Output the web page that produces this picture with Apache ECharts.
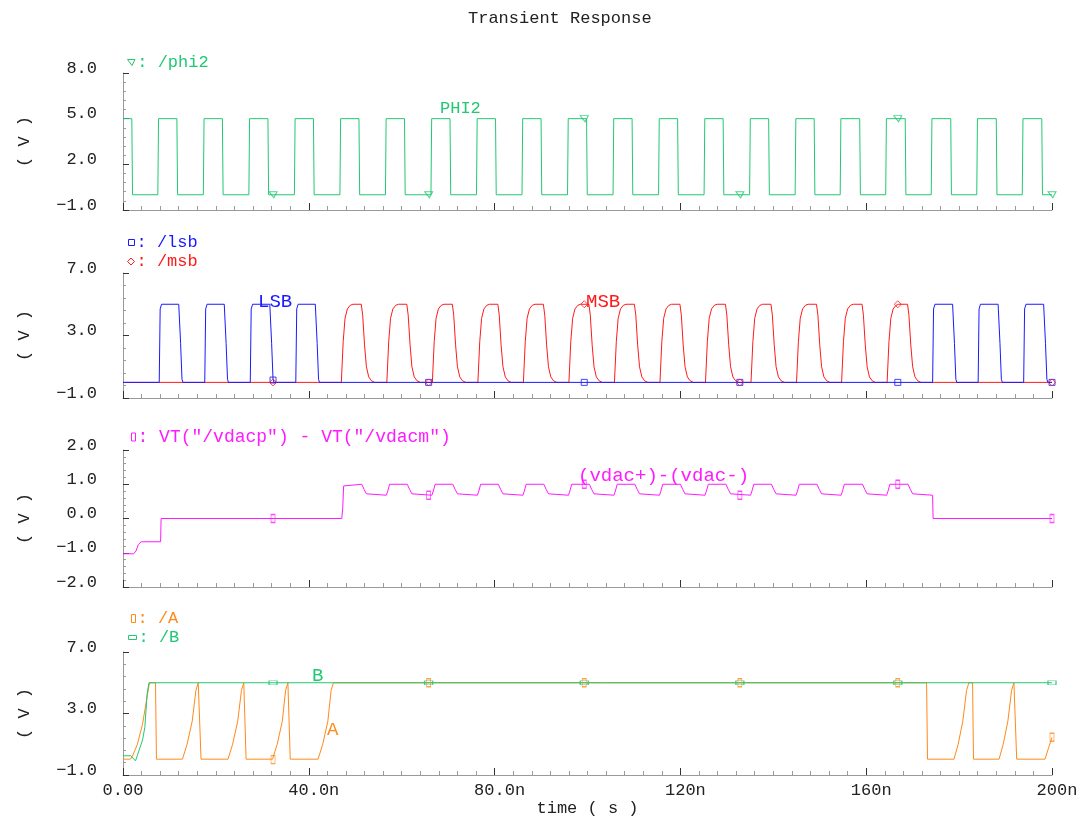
<!DOCTYPE html>
<html><head><meta charset="utf-8">
<script src="https://cdn.jsdelivr.net/npm/echarts/dist/echarts.min.js"></script>
<style>html,body{margin:0;padding:0;background:#fff}#c{width:1090px;height:825px}</style>
</head><body><div id="c"></div>
<script>
// ---------- tick labels ----------
const xTickLabels = ['0.00', '40.0n', '80.0n', '120n', '160n', '200n'];
const yTicks1 = ['\u22121.0', '2.0', '5.0', '8.0'];
const yTicks2 = ['\u22121.0', '3.0', '7.0'];
const yTicks3 = ['\u22122.0', '\u22121.0', '0.0', '1.0', '2.0'];
const yTicks4 = ['\u22121.0', '3.0', '7.0'];

// ---------- series values: [time (ns), volts] ----------
const phi2 = [
  [0,5],[1.9,5],[2.05,0],
  [7.5,0],[7.65,5],[11.6,5],[11.75,0],
  [17.3,0],[17.45,5],[21.4,5],[21.55,0],
  [27.1,0],[27.25,5],[31.2,5],[31.35,0],
  [36.9,0],[37.05,5],[41.0,5],[41.15,0],
  [46.7,0],[46.85,5],[50.8,5],[50.95,0],
  [56.5,0],[56.65,5],[60.6,5],[60.75,0],
  [66.3,0],[66.45,5],[70.4,5],[70.55,0],
  [76.1,0],[76.25,5],[80.2,5],[80.35,0],
  [85.9,0],[86.05,5],[90.0,5],[90.15,0],
  [95.7,0],[95.85,5],[99.8,5],[99.95,0],
  [105.5,0],[105.65,5],[109.6,5],[109.75,0],
  [115.3,0],[115.45,5],[119.4,5],[119.55,0],
  [125.1,0],[125.25,5],[129.2,5],[129.35,0],
  [134.9,0],[135.05,5],[139.0,5],[139.15,0],
  [144.7,0],[144.85,5],[148.8,5],[148.95,0],
  [154.4,0],[154.55,5],[158.6,5],[158.75,0],
  [164.2,0],[164.35,5],[168.4,5],[168.55,0],
  [174.0,0],[174.15,5],[178.2,5],[178.35,0],
  [183.8,0],[183.95,5],[188.0,5],[188.15,0],
  [193.6,0],[193.75,5],[197.8,5],[197.95,0],
  [200,0]
];
const lsb = [
  [0,0],[7.8,0],[8.0,4.7],[8.3,5],[12.0,5],[12.4,2.5],[12.7,0.2],[12.9,0],
  [17.6,0],[17.8,4.7],[18.1,5],[21.8,5],[22.2,2.5],[22.5,0.2],[22.7,0],
  [27.4,0],[27.6,4.7],[27.9,5],[31.6,5],[32.0,2.5],[32.3,0.2],[32.5,0],
  [37.2,0],[37.4,4.7],[37.7,5],[41.4,5],[41.8,2.5],[42.1,0.2],[42.3,0],
  [174.3,0],[174.5,4.7],[174.8,5],[178.6,5],[179.0,2.5],[179.3,0.2],[179.5,0],
  [184.1,0],[184.3,4.7],[184.6,5],[188.4,5],[188.8,2.5],[189.1,0.2],[189.3,0],
  [193.9,0],[194.1,4.7],[194.4,5],[198.2,5],[198.6,2.5],[198.9,0.2],[199.1,0],[200,0]
];
const msb = [
  [0,0],
  [47.0,0],[47.4,2.6],[47.8,4.1],[48.3,4.7],[48.9,4.93],[49.5,5],[51.3,5],[51.6,4.3],[52.0,2.4],[52.4,1.0],[52.9,0.35],[53.5,0.1],[54.2,0],
  [56.8,0],[57.2,2.6],[57.6,4.1],[58.1,4.7],[58.7,4.93],[59.3,5],[61.1,5],[61.4,4.3],[61.8,2.4],[62.2,1.0],[62.7,0.35],[63.3,0.1],[64.0,0],
  [66.6,0],[67.0,2.6],[67.4,4.1],[67.9,4.7],[68.5,4.93],[69.1,5],[70.9,5],[71.2,4.3],[71.6,2.4],[72.0,1.0],[72.5,0.35],[73.1,0.1],[73.8,0],
  [76.4,0],[76.8,2.6],[77.2,4.1],[77.7,4.7],[78.3,4.93],[78.9,5],[80.7,5],[81.0,4.3],[81.4,2.4],[81.8,1.0],[82.3,0.35],[82.9,0.1],[83.6,0],
  [86.2,0],[86.6,2.6],[87.0,4.1],[87.5,4.7],[88.1,4.93],[88.7,5],[90.5,5],[90.8,4.3],[91.2,2.4],[91.6,1.0],[92.1,0.35],[92.7,0.1],[93.4,0],
  [96.0,0],[96.4,2.6],[96.8,4.1],[97.3,4.7],[97.9,4.93],[98.5,5],[100.3,5],[100.6,4.3],[101.0,2.4],[101.4,1.0],[101.9,0.35],[102.5,0.1],[103.2,0],
  [105.8,0],[106.2,2.6],[106.6,4.1],[107.1,4.7],[107.7,4.93],[108.3,5],[110.1,5],[110.4,4.3],[110.8,2.4],[111.2,1.0],[111.7,0.35],[112.3,0.1],[113.0,0],
  [115.6,0],[116.0,2.6],[116.4,4.1],[116.9,4.7],[117.5,4.93],[118.1,5],[119.9,5],[120.2,4.3],[120.6,2.4],[121.0,1.0],[121.5,0.35],[122.1,0.1],[122.8,0],
  [125.4,0],[125.8,2.6],[126.2,4.1],[126.7,4.7],[127.3,4.93],[127.9,5],[129.7,5],[130.0,4.3],[130.4,2.4],[130.8,1.0],[131.3,0.35],[131.9,0.1],[132.6,0],
  [135.2,0],[135.6,2.6],[136.0,4.1],[136.5,4.7],[137.1,4.93],[137.7,5],[139.5,5],[139.8,4.3],[140.2,2.4],[140.6,1.0],[141.1,0.35],[141.7,0.1],[142.4,0],
  [145.0,0],[145.4,2.6],[145.8,4.1],[146.3,4.7],[146.9,4.93],[147.5,5],[149.3,5],[149.6,4.3],[150.0,2.4],[150.4,1.0],[150.9,0.35],[151.5,0.1],[152.2,0],
  [154.7,0],[155.1,2.6],[155.5,4.1],[156.0,4.7],[156.6,4.93],[157.2,5],[159.1,5],[159.4,4.3],[159.8,2.4],[160.2,1.0],[160.7,0.35],[161.3,0.1],[162.0,0],
  [164.5,0],[164.9,2.6],[165.3,4.1],[165.8,4.7],[166.4,4.93],[167.0,5],[168.9,5],[169.2,4.3],[169.6,2.4],[170.0,1.0],[170.5,0.35],[171.1,0.1],[171.8,0],
  [200,0]
];
const vdac = [
  [0,-1.03],[2.3,-1.03],[2.8,-0.95],[3.3,-0.76],[3.9,-0.68],[8.1,-0.68],[8.2,0],
  [47.1,0],[47.3,0.3],[47.5,0.95],[47.8,1.0],[51.4,1.0],[51.9,0.85],[52.4,0.72],[52.8,0.68],
  [56.7,0.68],[57.0,0.8],[57.4,1.0],[61.2,1.0],[61.7,0.85],[62.2,0.72],[62.6,0.68],
  [66.5,0.68],[66.8,0.8],[67.2,1.0],[71.0,1.0],[71.5,0.85],[72.0,0.72],[72.4,0.68],
  [76.3,0.68],[76.6,0.8],[77.0,1.0],[80.8,1.0],[81.3,0.85],[81.8,0.72],[82.2,0.68],
  [86.1,0.68],[86.4,0.8],[86.8,1.0],[90.6,1.0],[91.1,0.85],[91.6,0.72],[92.0,0.68],
  [95.9,0.68],[96.2,0.8],[96.6,1.0],[100.4,1.0],[100.9,0.85],[101.4,0.72],[101.8,0.68],
  [105.7,0.68],[106.0,0.8],[106.4,1.0],[110.2,1.0],[110.7,0.85],[111.2,0.72],[111.6,0.68],
  [115.5,0.68],[115.8,0.8],[116.2,1.0],[120.0,1.0],[120.5,0.85],[121.0,0.72],[121.4,0.68],
  [125.3,0.68],[125.6,0.8],[126.0,1.0],[129.8,1.0],[130.3,0.85],[130.8,0.72],[131.2,0.68],
  [135.1,0.68],[135.4,0.8],[135.8,1.0],[139.6,1.0],[140.1,0.85],[140.6,0.72],[141.0,0.68],
  [144.9,0.68],[145.2,0.8],[145.6,1.0],[149.4,1.0],[149.9,0.85],[150.4,0.72],[150.8,0.68],
  [154.6,0.68],[154.9,0.8],[155.3,1.0],[159.2,1.0],[159.7,0.85],[160.2,0.72],[160.6,0.68],
  [164.4,0.68],[164.7,0.8],[165.1,1.0],[169.0,1.0],[169.5,0.85],[170.0,0.72],[170.4,0.68],
  [174.3,0.68],[174.4,0],[200,0]
];
const sigA = [
  [0,0.03],[1.6,0.03],[2.0,0.2],[3.1,1.0],[4.2,2.3],[5.2,4.1],[5.7,5.0],[7.0,5.0],[7.2,0.03],
  [12.8,0.03],[13.8,1.0],[14.9,2.5],[15.7,4.5],[16.2,5.0],[16.6,5.0],[16.8,0.03],
  [22.6,0.03],[23.6,1.0],[24.7,2.5],[25.5,4.5],[26.0,5.0],[26.3,5.0],[26.5,0.03],
  [32.2,0.03],[33.2,1.0],[34.3,2.5],[35.0,4.5],[35.5,5.0],[35.8,5.0],[36.0,0.03],
  [42.0,0.03],[43.0,1.0],[44.1,2.5],[44.8,4.5],[45.3,5.0],
  [173.0,5.0],[173.2,0.03],
  [178.9,0.03],[179.8,1.0],[180.8,2.5],[181.6,4.5],[182.1,5.0],[182.9,5.0],[183.1,0.03],
  [188.6,0.03],[189.5,1.0],[190.5,2.5],[191.3,4.5],[191.8,5.0],[192.2,5.0],[192.4,0.03],
  [198.5,0.03],[199.3,0.8],[200,1.45]
];
const sigB = [
  [0,0.25],[1.7,0.25],[2.7,-0.08],[4.2,1.27],[4.7,2.1],[5.2,4.3],[5.6,5.0],[200,5.0]
];
// ---------- marker points ----------
const phi2Marks = [[32.3,0],[65.8,0],[99.3,5],[132.8,0],[166.8,5],[200,0]];
const lsbMarks  = [[32.3,0.15],[65.8,0],[99.3,0],[132.8,0],[166.8,0],[200,0]];
const msbMarks  = [[32.3,0],[65.8,0],[99.3,5],[132.8,0],[166.8,5],[200,0]];
const vdacMarks = [[32.3,0],[65.8,0.68],[99.3,1.0],[132.8,0.68],[166.8,1.0],[200,0]];
const aMarks    = [[32.3,0],[65.8,5],[99.3,5],[132.8,5],[166.8,5],[200,1.45]];
const bMarks    = [[32.3,5],[65.8,5],[99.3,5],[132.8,5],[166.8,5],[200,5]];

// ---------- style ----------
const FONT = 'Liberation Mono';
const GREEN = '#22c872', BLUE = '#1a1aff', RED = '#ff1a1a', MAG = '#ff1aff', ORANGE = '#ff8a1a';
const TXT = '#222';
const TRI = 'path://M0,0 L10,0 L6,8 Z';
const grids = [
  {left:123, width:929, top:73, height:137},
  {left:123, width:929, top:273, height:125},
  {left:123, width:929, top:450, height:137},
  {left:123, width:929, top:652, height:123}
];
function xAx(gi, show) {
  return {
    type:'value', gridIndex:gi, min:0, max:200, interval:40,
    axisLine:{show:true, onZero:false, lineStyle:{color:'#9a9a9a', width:1}},
    axisTick:{show:true, inside:true, length:7, lineStyle:{color:'#333'}},
    minorTick:{show:true, splitNumber:10, length:4, lineStyle:{color:'#9a9a9a'}},
    splitLine:{show:false}, minorSplitLine:{show:false},
    axisLabel:{show:show, margin:7, fontFamily:FONT, fontSize:17, color:TXT,
      rich:{u:{padding:[0,0,0,10], fontFamily:FONT, fontSize:17, color:TXT}},
      formatter:v => {
        const s = xTickLabels[Math.round(v/40)];
        return s.endsWith('n') ? '{u|' + s + '}' : s;
      }},
    name: show ? 'time ( s )' : '', nameLocation:'middle', nameGap:24,
    nameTextStyle:{fontFamily:FONT, fontSize:17, color:TXT}
  };
}
function yAx(gi, min, max, interval, labels) {
  return {
    type:'value', gridIndex:gi, min:min, max:max, interval:interval,
    axisLine:{show:true, onZero:false, lineStyle:{color:'#9a9a9a', width:1}},
    axisTick:{show:true, inside:true, length:6, lineStyle:{color:'#333'}},
    minorTick:{show:true, splitNumber:5, length:3, lineStyle:{color:'#9a9a9a'}},
    splitLine:{show:false}, minorSplitLine:{show:false},
    axisLabel:{margin:26, fontFamily:FONT, fontSize:17, color:TXT, verticalAlign:'bottom', lineHeight:10,
      formatter:v => labels[Math.round((v-min)/interval)]},
    name:'( V )', nameLocation:'middle', nameGap:90,
    nameTextStyle:{fontFamily:FONT, fontSize:17, color:TXT}
  };
}
function line(name, data, color, gi, z) {
  return {type:'line', name:name, data:data, xAxisIndex:gi, yAxisIndex:gi, showSymbol:false,
    symbol:'none', lineStyle:{color:color, width:1}, itemStyle:{color:color}, z:z, animation:false, silent:true};
}
function marks(name, data, color, gi, symbol, size) {
  return {type:'scatter', name:name, data:data, xAxisIndex:gi, yAxisIndex:gi, symbol:symbol, symbolSize:size,
    itemStyle:{color:'rgba(0,0,0,0)', borderColor:color, borderWidth:1}, z:10, animation:false, silent:true};
}
function leg(name, color, left, top, icon, w, h, fs) {
  return {data:[{name:name, icon:icon}], left:left, top:top, padding:0, itemWidth:w, itemHeight:h,
    selectedMode:false, formatter:': {name}',
    itemStyle:{color:'rgba(0,0,0,0)', borderColor:color, borderWidth:1},
    textStyle:{color:color, fontFamily:FONT, fontSize:fs || 17, padding:[0,0,0,-3]}};
}
function lbl(text, color, left, top, size) {
  return {type:'text', left:left, top:top, silent:true,
    style:{text:text, fill:color, fontFamily:FONT, fontSize:size}};
}

const chart = echarts.init(document.getElementById('c'), null, {renderer:'canvas'});
chart.setOption({
  backgroundColor:'#ffffff',
  animation:false,
  title:{text:'Transient Response', left:463, top:5,
    textStyle:{fontFamily:FONT, fontSize:17, fontWeight:'normal', color:TXT}},
  grid:grids,
  xAxis:[xAx(0,false), xAx(1,false), xAx(2,false), xAx(3,true)],
  yAxis:[yAx(0,-1,8,3,yTicks1), yAx(1,-1,7,4,yTicks2), yAx(2,-2,2,1,yTicks3), yAx(3,-1,7,4,yTicks4)],
  legend:[
    leg('/phi2', GREEN, 127, 54, TRI, 8, 6),
    leg('/lsb', BLUE, 128, 234, 'rect', 6, 6),
    leg('/msb', RED, 127, 253, 'diamond', 7, 7),
    leg('VT("/vdacp") - VT("/vdacm")', MAG, 131, 428, 'rect', 4, 8, 18),
    leg('/A', ORANGE, 131, 610, 'rect', 4, 8),
    leg('/B', GREEN, 128, 629, 'rect', 8, 4)
  ],
  tooltip:{show:false},
  series:[
    line('/phi2', phi2, GREEN, 0, 2),
    line('/msb', msb, RED, 1, 2),
    line('/lsb', lsb, BLUE, 1, 3),
    line('VT("/vdacp") - VT("/vdacm")', vdac, MAG, 2, 2),
    line('/A', sigA, ORANGE, 3, 2),
    line('/B', sigB, GREEN, 3, 3),
    marks('/phi2', phi2Marks, GREEN, 0, TRI, [8,6]),
    marks('/lsb', lsbMarks, BLUE, 1, 'rect', [6,6]),
    marks('/msb', msbMarks, RED, 1, 'diamond', [7,7]),
    marks('VT("/vdacp") - VT("/vdacm")', vdacMarks, MAG, 2, 'rect', [4,8]),
    marks('/A', aMarks, ORANGE, 3, 'rect', [4,8]),
    marks('/B', bMarks, GREEN, 3, 'rect', [8,4])
  ],
  graphic:[
    lbl('PHI2', GREEN, 440, 100, 17),
    lbl('LSB', BLUE, 258, 292, 19),
    lbl('MSB', RED, 586, 292, 19),
    lbl('(vdac+)-(vdac-)', MAG, 578, 466, 19),
    lbl('B', GREEN, 312, 666, 19),
    lbl('A', ORANGE, 327, 720, 19)
  ]
});
</script></body></html>
